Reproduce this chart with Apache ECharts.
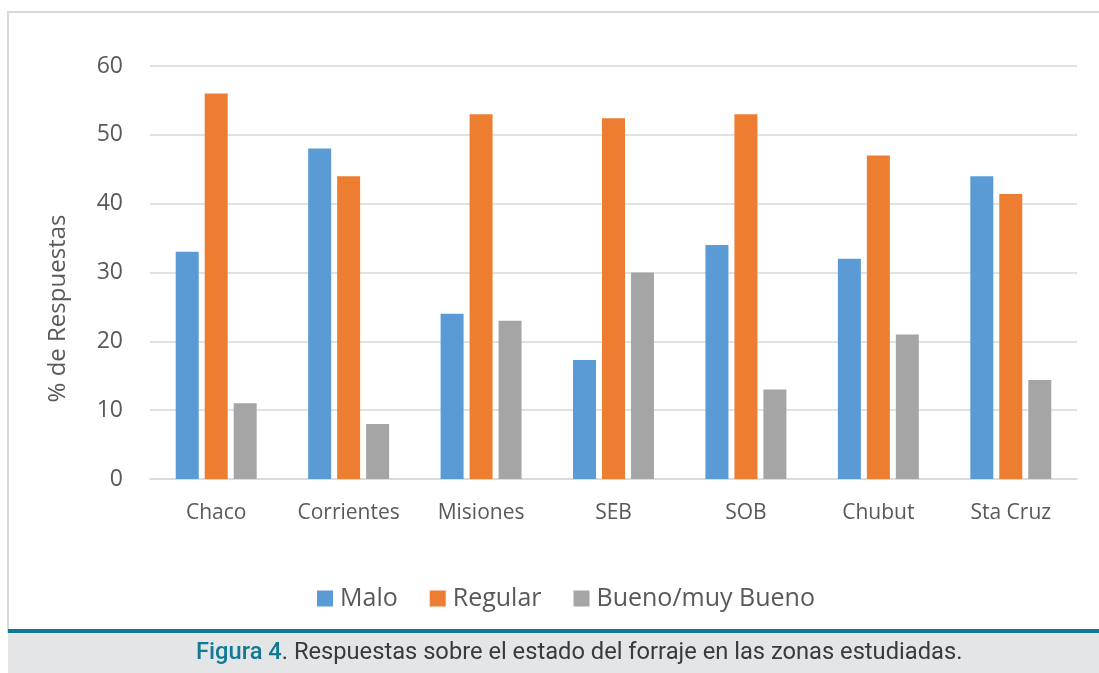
<!DOCTYPE html>
<html>
<head>
<meta charset="utf-8">
<script src="https://cdn.jsdelivr.net/npm/echarts@6/dist/echarts.min.js"></script>
<style>
html,body{margin:0;padding:0;background:#fff;}
#chart{width:1099px;height:673px;}
</style>
</head>
<body>
<div id="chart"></div>
<script>
const categories = ['Chaco', 'Corrientes', 'Misiones', 'SEB', 'SOB', 'Chubut', 'Sta Cruz'];
const malo = [33, 48, 24, 17.3, 34, 32, 44];
const regular = [56, 44, 53, 52.4, 53, 47, 41.4];
const bueno = [11, 8, 23, 30, 13, 21, 14.4];
const seriesNames = ['Malo', 'Regular', 'Bueno/muy Bueno'];
const yTicks = [0, 10, 20, 30, 40, 50, 60];
const yAxisTitle = '% de Respuestas';
const captionBold = 'Figura 4';
const captionRest = '. Respuestas sobre el estado del forraje en las zonas estudiadas.';

const font = '"Open Sans", sans-serif';
const chart = echarts.init(document.getElementById('chart'));
const colors = ['#5b9bd5', '#ed7d31', '#a5a5a5'];
const datasets = [malo, regular, bueno];

chart.setOption({
  animation: false,
  color: colors,
  textStyle: { fontFamily: font },
  grid: { left: 150, right: 22, top: 66, bottom: 194 },
  legend: {
    data: seriesNames,
    top: 581,
    left: 312,
    itemWidth: 16,
    itemHeight: 16,
    itemGap: 32,
    icon: 'rect',
    textStyle: { fontSize: 25, color: '#595959', fontFamily: font, padding: [0, 0, 0, 2] }
  },
  xAxis: {
    type: 'category',
    data: categories,
    axisLine: { show: true, lineStyle: { color: '#d9d9d9', width: 1.5 } },
    axisTick: { show: false },
    axisLabel: { interval: 0, fontSize: 21, color: '#595959', margin: 24, fontFamily: font }
  },
  yAxis: {
    type: 'value',
    min: yTicks[0],
    max: yTicks[yTicks.length - 1],
    interval: 10,
    name: yAxisTitle,
    nameLocation: 'middle',
    nameGap: 80,
    nameTextStyle: { fontSize: 24, color: '#595959', fontFamily: font, padding: [0, 72, 0, 0] },
    axisLine: { show: false },
    axisTick: { show: false },
    axisLabel: { fontSize: 23, color: '#595959', margin: 27, fontFamily: font },
    splitLine: { lineStyle: { color: '#d9d9d9', width: 1.5 } }
  },
  series: seriesNames.map((n, i) => ({
    name: n,
    type: 'bar',
    data: datasets[i],
    barWidth: 23,
    barGap: '26%'
  })),
  graphic: [
    { type: 'rect', shape: { x: 8, y: 12, width: 1200, height: 620 }, style: { fill: 'none', stroke: '#d9d9d9', lineWidth: 2 }, silent: true, z: -1 },
    { type: 'rect', shape: { x: 8, y: 633, width: 1091, height: 40 }, style: { fill: '#e4e5e7' }, silent: true },
    { type: 'rect', shape: { x: 8, y: 629, width: 1091, height: 4 }, style: { fill: '#127995' }, silent: true },
    {
      type: 'text',
      left: 196,
      top: 641,
      style: {
        text: '{b|' + captionBold + '}{r|' + captionRest + '}',
        rich: {
          b: { fontFamily: 'Roboto, sans-serif', fontSize: 23.7, fontWeight: 500, fill: '#127995' },
          r: { fontFamily: 'Roboto, sans-serif', fontSize: 23.7, fill: '#3a3a3a' }
        }
      }
    }
  ]
});
</script>
</body>
</html>
